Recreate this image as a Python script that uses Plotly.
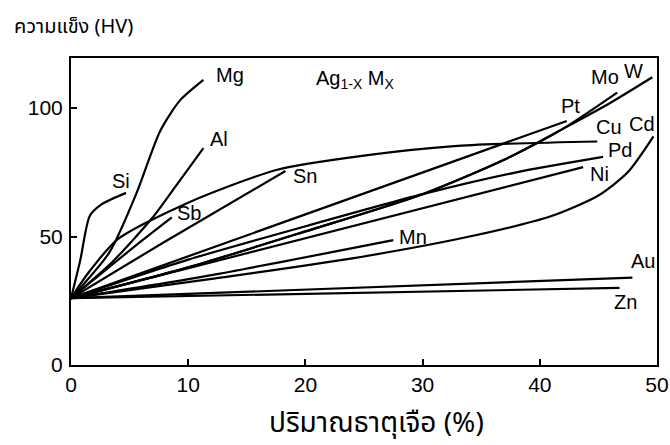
import plotly.graph_objects as go

# ---- data (x: alloying content %, y: hardness HV) ----
si_x = [0, 0.8, 1.6, 2.6, 4.7]
si_y = [26, 41, 58, 62.5, 67]
mg_x = [0, 3.3, 5.6, 7.6, 9.3, 11.3]
mg_y = [26, 44, 67, 91, 103, 111]
al_x = [0, 3.5, 7, 9, 11.3]
al_y = [26, 40, 57.6, 70, 84.4]
sb_x = [0, 6.1, 8.6]
sb_y = [26, 48.6, 57.5]
sn_x = [0, 8, 18.3]
sn_y = [26, 48, 75.5]
cu_x = [0, 1.5, 4, 9.9, 17.6, 25, 33, 44.9]
cu_y = [26, 36, 49, 63, 76, 81.5, 85.3, 87]
pt_x = [0, 42.3]
pt_y = [26, 95]
mo_x = [0, 10, 20, 30, 37, 42, 46.6]
mo_y = [26, 38, 52, 66.5, 80, 92, 106]
w_x = [0, 10, 20, 30, 37, 42, 46, 49.6]
w_y = [26, 38, 52, 66.5, 80, 92, 102, 112]
pd_x = [0, 10, 20, 30, 38, 45.4]
pd_y = [26, 41, 54, 66.5, 75, 81]
ni_x = [0, 43.7]
ni_y = [26, 77]
mn_x = [0, 12, 27.5]
mn_y = [26, 35, 48.6]
cd_x = [0, 12, 24, 34, 41, 45, 47.5, 49.7]
cd_y = [26, 33.5, 41.5, 50, 58, 66, 75, 89]
au_x = [0, 47.9]
au_y = [26, 34]
zn_x = [0, 46.8]
zn_y = [26, 30]

series = [
    (si_x, si_y), (mg_x, mg_y), (al_x, al_y), (sb_x, sb_y), (sn_x, sn_y),
    (cu_x, cu_y), (pt_x, pt_y), (mo_x, mo_y), (w_x, w_y),
    (pd_x, pd_y), (ni_x, ni_y), (mn_x, mn_y), (cd_x, cd_y), (au_x, au_y),
    (zn_x, zn_y),
]

label_text = ["Mg", "Al", "Si", "Sb", "Sn", "Mn", "Pt", "Mo", "W", "Cu", "Cd", "Pd", "Ni", "Au", "Zn"]
label_x = [13.6, 12.6, 4.3, 10.1, 20.0, 29.2, 42.6, 45.6, 48.0, 45.9, 48.7, 46.8, 45.1, 48.8, 47.3]
label_y = [112.8, 88.0, 71.6, 59.0, 73.5, 50.0, 101.0, 112.0, 114.4, 92.6, 94.0, 83.6, 74.3, 40.5, 24.5]

x_ticks = [0, 10, 20, 30, 40, 50]
y_ticks = [0, 50, 100]

FONT = "Liberation Sans, Arial, sans-serif"
THAI = "Tahoma, Noto Sans Thai, Loma, Garuda, Noto Sans, sans-serif"

fig = go.Figure()
for xs, ys in series:
    fig.add_trace(go.Scatter(
        x=xs, y=ys, mode="lines",
        line=dict(color="black", width=2.2, shape="spline", smoothing=0.7),
        hoverinfo="skip", showlegend=False,
    ))

for t, lx, ly in zip(label_text, label_x, label_y):
    fig.add_annotation(x=lx, y=ly, text=t, showarrow=False,
                       font=dict(family=FONT, size=20, color="black"))

fig.add_annotation(x=24.2, y=111, text="Ag<sub>1-X</sub> M<sub>X</sub>", showarrow=False,
                   font=dict(family=FONT, size=20, color="black"))

fig.add_annotation(xref="paper", yref="paper", x=-0.1, y=1.10, xanchor="left", yanchor="middle",
                   text="ความแข็ง (HV)", showarrow=False,
                   font=dict(family=THAI, size=20, color="black"))
fig.add_annotation(xref="paper", yref="paper", x=0.522, y=-0.19, xanchor="center", yanchor="middle",
                   text="ปริมาณธาตุเจือ (%)", showarrow=False,
                   font=dict(family=THAI, size=28, color="black"))

fig.update_xaxes(range=[0, 50], tickvals=x_ticks, ticks="inside", ticklen=6, tickwidth=2,
                 tickcolor="black", showline=True, linecolor="black", linewidth=2, mirror=True,
                 showgrid=False, zeroline=False, automargin=False, ticklabelstandoff=0,
                 ticklabeloverflow="allow",
                 tickfont=dict(family=FONT, size=21, color="black"))
fig.update_yaxes(range=[0, 119.5], tickvals=y_ticks, ticks="inside", ticklen=6, tickwidth=2,
                 tickcolor="black", showline=True, linecolor="black", linewidth=2, mirror=True,
                 showgrid=False, zeroline=False, automargin=False, ticklabelstandoff=2,
                 tickfont=dict(family=FONT, size=21, color="black"))

fig.update_layout(width=670, height=445, margin=dict(l=71, r=13, t=58, b=80),
                  plot_bgcolor="white", paper_bgcolor="white")

fig.write_html(
    "out.html",
    config={"displayModeBar": False},
    post_script="document.body.style.margin='0';document.body.style.overflow='hidden';",
)
